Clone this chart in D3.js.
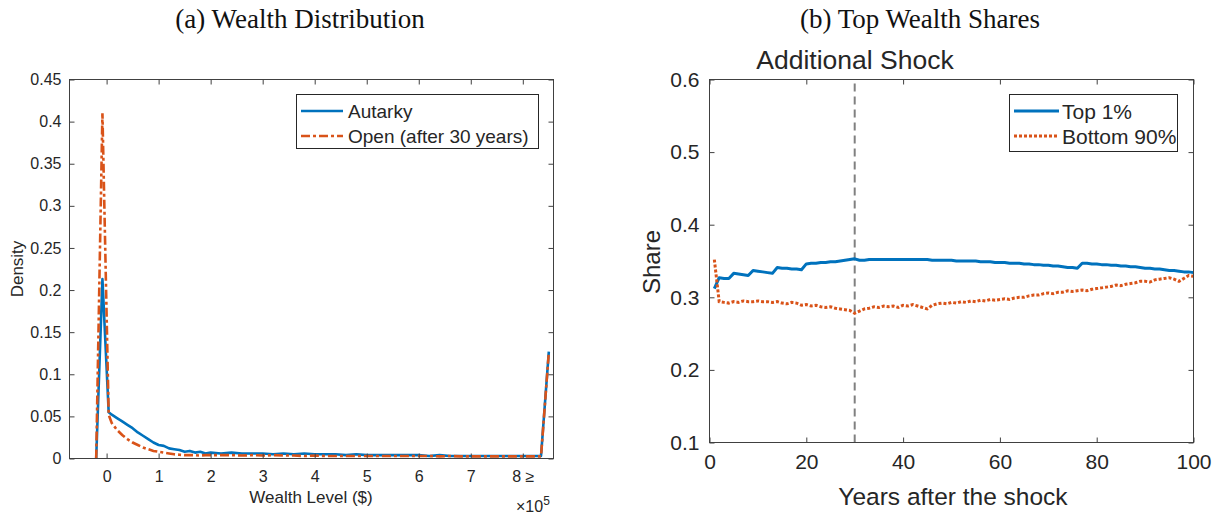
<!DOCTYPE html>
<html>
<head>
<meta charset="utf-8">
<script src="https://cdn.jsdelivr.net/npm/d3@7"></script>
<style>
  html, body { margin: 0; padding: 0; background: #ffffff; }
  svg { display: block; }
  text { font-family: "Liberation Sans", Arial, sans-serif; fill: #262626; }
  .title { font-family: "Liberation Serif", "Times New Roman", serif; fill: #111; }
</style>
</head>
<body>
<svg id="chart" width="1225" height="516"></svg>
<script>
// ---------- Panel (a): Wealth distribution ----------
const wealthLevels = [-0.2, -0.08, 0.04,
  0.1, 0.2, 0.3, 0.4, 0.5, 0.6, 0.7, 0.8, 0.9, 1.0,
  1.1, 1.2, 1.3, 1.4, 1.5, 1.6, 1.7, 1.8, 1.9, 2.0,
  2.2, 2.4, 2.6, 2.8, 3.0, 3.2, 3.4, 3.6, 3.8, 4.0,
  4.2, 4.4, 4.6, 4.8, 5.0, 5.2, 5.4, 5.6, 5.8, 6.0,
  6.2, 6.4, 6.6, 6.8, 7.0, 7.2, 7.4, 7.6, 7.8, 8.0,
  8.2, 8.35, 8.5];
const autarkyDensity = [0, 0.213, 0.055,
  0.052, 0.048, 0.044, 0.040, 0.036, 0.031, 0.027, 0.023, 0.019, 0.016,
  0.015, 0.012, 0.011, 0.010, 0.008, 0.009, 0.007, 0.008, 0.006, 0.007,
  0.006, 0.007, 0.006, 0.006, 0.006, 0.005, 0.006, 0.005, 0.006, 0.005,
  0.005, 0.005, 0.004, 0.005, 0.004, 0.004, 0.004, 0.004, 0.004, 0.004,
  0.003, 0.004, 0.003, 0.003, 0.003, 0.003, 0.003, 0.003, 0.003, 0.003,
  0.003, 0.003, 0.127];
const openDensity = [0, 0.41, 0.052,
  0.042, 0.034, 0.028, 0.023, 0.019, 0.016, 0.013, 0.011, 0.009, 0.008,
  0.007, 0.006, 0.005, 0.0045, 0.004, 0.004, 0.004, 0.0035, 0.004, 0.004,
  0.004, 0.004, 0.0035, 0.004, 0.0035, 0.004, 0.0035, 0.0035, 0.003, 0.0035,
  0.003, 0.003, 0.003, 0.003, 0.003, 0.003, 0.003, 0.003, 0.003, 0.003,
  0.003, 0.0025, 0.003, 0.0025, 0.0025, 0.0025, 0.0025, 0.0025, 0.0025, 0.0025,
  0.0025, 0.0025, 0.126];
const wealthTicks = [0, 1, 2, 3, 4, 5, 6, 7, 8];
const wealthTickLabels = ["0", "1", "2", "3", "4", "5", "6", "7", "8 \u2265"];
const densityTicks = [0, 0.05, 0.1, 0.15, 0.2, 0.25, 0.3, 0.35, 0.4, 0.45];
const densityTickLabels = ["0", "0.05", "0.1", "0.15", "0.2", "0.25", "0.3", "0.35", "0.4", "0.45"];
const seriesA = ["Autarky", "Open (after 30 years)"];

// ---------- Panel (b): Top wealth shares ----------
const years = d3.range(1, 101);
const top1Share = [
  0.312, 0.327, 0.326, 0.326, 0.333, 0.332, 0.331, 0.330, 0.337, 0.336,
  0.335, 0.334, 0.333, 0.341, 0.340, 0.340, 0.339, 0.339, 0.338, 0.346,
  0.347, 0.347, 0.348, 0.348, 0.349, 0.349, 0.350, 0.351, 0.352, 0.353,
  0.351, 0.351, 0.352, 0.352, 0.352, 0.352, 0.352, 0.352, 0.352, 0.352,
  0.352, 0.352, 0.352, 0.352, 0.352, 0.351, 0.351, 0.351, 0.351, 0.351,
  0.350, 0.350, 0.350, 0.350, 0.350, 0.349, 0.349, 0.349, 0.348, 0.348,
  0.348, 0.347, 0.347, 0.347, 0.346, 0.346, 0.345, 0.345, 0.344, 0.344,
  0.343, 0.343, 0.342, 0.341, 0.341, 0.340, 0.347, 0.347, 0.346, 0.346,
  0.345, 0.345, 0.344, 0.344, 0.343, 0.343, 0.342, 0.342, 0.341, 0.340,
  0.340, 0.339, 0.339, 0.338, 0.337, 0.337, 0.336, 0.335, 0.335, 0.334];
const bottom90Share = [
  0.352, 0.294, 0.293, 0.292, 0.294, 0.293, 0.295, 0.294, 0.294, 0.295,
  0.294, 0.294, 0.293, 0.294, 0.292, 0.291, 0.293, 0.292, 0.289, 0.290,
  0.288, 0.289, 0.287, 0.286, 0.287, 0.285, 0.284, 0.283, 0.282, 0.278,
  0.281, 0.284, 0.285, 0.287, 0.286, 0.288, 0.287, 0.288, 0.286, 0.289,
  0.288, 0.290, 0.288, 0.286, 0.284, 0.289, 0.291, 0.292, 0.291, 0.293,
  0.292, 0.294, 0.293, 0.295, 0.294, 0.296, 0.295, 0.297, 0.296, 0.297,
  0.298, 0.297, 0.299, 0.300, 0.300, 0.302, 0.303, 0.303, 0.305, 0.306,
  0.305, 0.307, 0.307, 0.309, 0.308, 0.309, 0.310, 0.309, 0.311, 0.312,
  0.313, 0.314, 0.315, 0.317, 0.316, 0.318, 0.319, 0.320, 0.322, 0.322,
  0.321, 0.324, 0.325, 0.326, 0.327, 0.325, 0.322, 0.326, 0.330, 0.329];
const yearTicks = [0, 20, 40, 60, 80, 100];
const shareTicks = [0.1, 0.2, 0.3, 0.4, 0.5, 0.6];
const shockYear = [30];
const seriesB = ["Top 1%", "Bottom 90%"];

const BLUE = "#0072BD", ORANGE = "#D95319", AXIS = "#404040";

const svg = d3.select("#chart");
svg.append("rect").attr("width", 1225).attr("height", 516).attr("fill", "#fff");

function frame(g, x, y, xTicks, xLabels, yTicks, yLabels, fs, xLabelDy, yLabelDx) {
  const [x0, x1] = x.range(), [y0, y1] = y.range();
  const tl = 5;
  const bx = d3.axisBottom(x).tickValues(xTicks).tickSizeInner(-tl).tickSizeOuter(0)
    .tickFormat((d, i) => xLabels[i]).tickPadding(xLabelDy);
  const gb = g.append("g").attr("transform", `translate(0,${y0})`).call(bx);
  const tx = d3.axisTop(x).tickValues(xTicks).tickSizeInner(-tl).tickSizeOuter(0).tickFormat("");
  const gt = g.append("g").attr("transform", `translate(0,${y1})`).call(tx);
  const ly = d3.axisLeft(y).tickValues(yTicks).tickSizeInner(-tl).tickSizeOuter(0)
    .tickFormat((d, i) => yLabels[i]).tickPadding(yLabelDx);
  const gl = g.append("g").attr("transform", `translate(${x0},0)`).call(ly);
  const ry = d3.axisRight(y).tickValues(yTicks).tickSizeInner(-tl).tickSizeOuter(0).tickFormat("");
  const gr = g.append("g").attr("transform", `translate(${x1},0)`).call(ry);
  [gb, gt, gl, gr].forEach(a => {
    a.select(".domain").remove();
    a.selectAll(".tick line").attr("stroke", AXIS).attr("stroke-width", 1);
    a.selectAll("text").attr("font-size", fs).attr("fill", "#262626")
      .attr("font-family", "Liberation Sans, Arial, sans-serif");
  });
  g.append("rect").attr("x", x0).attr("y", y1).attr("width", x1 - x0).attr("height", y0 - y1)
    .attr("fill", "none").attr("stroke", AXIS).attr("stroke-width", 1);
}

// ---- Panel A ----
const xA = d3.scaleLinear().domain([-0.713, 8.59]).range([69.5, 553.5]);
const yA = d3.scaleLinear().domain([0, 0.45]).range([458.5, 79.5]);
const gA = svg.append("g");
svg.append("clipPath").attr("id", "clipA").append("rect")
  .attr("x", 69.5).attr("y", 79.5).attr("width", 484).attr("height", 379);

const lineA = (vals) => d3.line().x((d, i) => xA(wealthLevels[i])).y(d => yA(d))(vals);
gA.append("path").attr("d", lineA(autarkyDensity)).attr("fill", "none")
  .attr("stroke", BLUE).attr("stroke-width", 2.6).attr("stroke-linejoin", "round")
  .attr("clip-path", "url(#clipA)");
gA.append("path").attr("d", lineA(openDensity)).attr("fill", "none")
  .attr("stroke", ORANGE).attr("stroke-width", 2.6).attr("stroke-dasharray", "9,3,3,3")
  .attr("clip-path", "url(#clipA)");

frame(gA, xA, yA, wealthTicks, wealthTickLabels, densityTicks, densityTickLabels, 16, 12, 8);

svg.append("text").attr("class", "title").attr("x", 300).attr("y", 28)
  .attr("text-anchor", "middle").attr("font-size", 27).text("(a) Wealth Distribution");
svg.append("text").attr("x", 311).attr("y", 503).attr("text-anchor", "middle")
  .attr("font-size", 17).text("Wealth Level ($)");
svg.append("text").attr("transform", "translate(23,269) rotate(-90)")
  .attr("text-anchor", "middle").attr("font-size", 17).text("Density");
const mult = svg.append("text").attr("x", 516).attr("y", 512).attr("font-size", 16);
mult.append("tspan").text("\u00d710");
mult.append("tspan").attr("dy", -7).attr("font-size", 12).text("5");

// legend A
const legA = svg.append("g");
legA.append("rect").attr("x", 296.5).attr("y", 94.5).attr("width", 242).attr("height", 54)
  .attr("fill", "#fff").attr("stroke", "#262626").attr("stroke-width", 1);
const legAStyles = [{ c: BLUE, d: null }, { c: ORANGE, d: "9,3,3,3" }];
seriesA.forEach((s, i) => {
  const cy = 111 + i * 25;
  legA.append("line").attr("x1", 301).attr("x2", 343).attr("y1", cy).attr("y2", cy)
    .attr("stroke", legAStyles[i].c).attr("stroke-width", 2.6)
    .attr("stroke-dasharray", legAStyles[i].d);
  legA.append("text").attr("x", 348).attr("y", cy + 7).attr("font-size", 19).text(s);
});

// ---- Panel B ----
const xB = d3.scaleLinear().domain([0, 100]).range([709.5, 1193.5]);
const yB = d3.scaleLinear().domain([0.1, 0.6]).range([442.5, 79.5]);
const gB = svg.append("g");

gB.selectAll(".shock").data(shockYear).enter().append("line")
  .attr("x1", d => xB(d)).attr("x2", d => xB(d)).attr("y1", yB(0.1)).attr("y2", yB(0.6))
  .attr("stroke", "#808080").attr("stroke-width", 2).attr("stroke-dasharray", "8,5");

const lineB = d3.line().x((d, i) => xB(years[i])).y(d => yB(d));
gB.append("path").attr("d", lineB(top1Share)).attr("fill", "none")
  .attr("stroke", BLUE).attr("stroke-width", 3).attr("stroke-linejoin", "round");
gB.append("path").attr("d", lineB(bottom90Share)).attr("fill", "none")
  .attr("stroke", ORANGE).attr("stroke-width", 3).attr("stroke-dasharray", "3,2");

frame(gB, xB, yB, yearTicks, yearTicks.map(String), shareTicks, shareTicks.map(d => d.toFixed(1)), 21, 12, 10);

svg.append("text").attr("class", "title").attr("x", 920).attr("y", 28)
  .attr("text-anchor", "middle").attr("font-size", 27).text("(b) Top Wealth Shares");
svg.append("text").attr("x", 855).attr("y", 69).attr("text-anchor", "middle")
  .attr("font-size", 26.5).attr("fill", "#000").text("Additional Shock");
svg.append("text").attr("x", 953).attr("y", 505).attr("text-anchor", "middle")
  .attr("font-size", 24.5).text("Years after the shock");
svg.append("text").attr("transform", "translate(660,262) rotate(-90)")
  .attr("text-anchor", "middle").attr("font-size", 24).text("Share");

const legB = svg.append("g");
legB.append("rect").attr("x", 1009.5).attr("y", 94.5).attr("width", 168).attr("height", 57)
  .attr("fill", "#fff").attr("stroke", "#262626").attr("stroke-width", 1);
const legBStyles = [{ c: BLUE, d: null }, { c: ORANGE, d: "3,2" }];
seriesB.forEach((s, i) => {
  const cy = 111 + i * 25;
  legB.append("line").attr("x1", 1014).attr("x2", 1059).attr("y1", cy).attr("y2", cy)
    .attr("stroke", legBStyles[i].c).attr("stroke-width", 3)
    .attr("stroke-dasharray", legBStyles[i].d);
  legB.append("text").attr("x", 1062).attr("y", cy + 8).attr("font-size", 21).attr("fill", "#000").text(s);
});
</script>
</body>
</html>
